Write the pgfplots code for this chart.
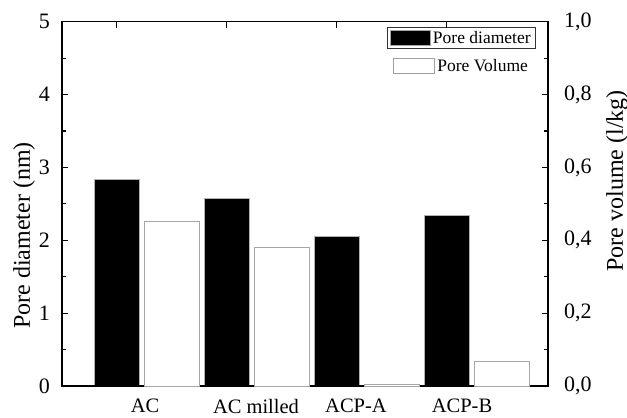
\documentclass[border=0pt]{standalone}
\usepackage{fontspec}
\setmainfont{Liberation Serif}
\usepackage{pgfplots}
\pgfplotsset{compat=1.18}
\begin{document}
\begin{tikzpicture}
\pgfplotsset{
  common/.style={
    scale only axis, width=486pt, height=364.3pt,
    at={(0,0)}, anchor=south west,
    xmin=62, xmax=548,
    axis line style={line width=1.2pt},
    tick style={line width=1.1pt, black},
    tick align=inside,
    major tick length=6pt, minor tick length=4pt,
    /pgf/number format/assume math mode=true,
    ticklabel style={font=\fontsize{22}{22}\selectfont},
    label style={font=\fontsize{24}{24}\selectfont},
    legend style={font=\fontsize{17.5}{19}\selectfont, cells={anchor=west},
      inner xsep=3pt, inner ysep=1.5pt, row sep=0pt, line width=0.8pt},
  },
}
% left axis: pore diameter
\begin{axis}[common,
  ymin=0, ymax=5,
  ytick={0,1,2,3,4,5},
  minor y tick num=1,
  ytick pos=left,
  yticklabel style={inner sep=0pt, anchor=east, xshift=-12pt},
  xtick={145,256,356,462},
  xticklabels={AC, AC milled, ACP-A, ACP-B},
  xtick pos=bottom,
  xtick style={draw=none},
  xticklabel style={inner sep=0pt, anchor=north, yshift=-13pt, font=\fontsize{20.5}{20.5}\selectfont},
  ylabel={Pore diameter (nm)},
  ylabel style={at={(axis description cs:-0.078,0.413)}, anchor=center},
  legend style={at={(axis description cs:0.6687,0.9855)}, anchor=north west, draw=black!80},
  legend image code/.code={\draw[fill=black, draw=gray!70, line width=0.6pt] (0pt,-7.5pt) rectangle (40pt,7.5pt);},
]
\addplot[ybar, bar width=45, bar shift=0pt, fill=black, draw=gray!60, line width=0.8pt]
  coordinates {(116.8,2.835) (226.8,2.575) (336.8,2.058) (446.8,2.34)};
\addlegendentry{Pore diameter}
\end{axis}
% right axis: pore volume
\begin{axis}[common,
  ymin=0, ymax=1,
  ytick={0,0.2,0.4,0.6,0.8,1.0},
  minor y tick num=1,
  ytick pos=right,
  yticklabel style={inner sep=0pt, anchor=west, xshift=16pt,
    /pgf/number format/.cd, fixed, fixed zerofill, precision=1, use comma},
  xtick={116.8,226.8,336.8,446.8},
  xticklabels={},
  xtick pos=top,
  ylabel={Pore volume (l/kg)},
  ylabel style={at={(axis description cs:1.142,0.563)}, anchor=center, rotate=0},
  legend style={at={(axis description cs:0.675,0.9086)}, anchor=north west, draw=none, fill=none},
  legend image code/.code={\draw[fill=white, draw=gray!75, line width=0.9pt] (0pt,-7.5pt) rectangle (41pt,7.5pt);},
]
\addplot[ybar, bar width=55, bar shift=0pt, fill=white, draw=gray!70, line width=1pt]
  coordinates {(171.5,0.451) (281.5,0.379) (391.5,0.004) (501.5,0.067)};
\addlegendentry{Pore Volume}
\end{axis}
\pgfresetboundingbox
\path (-62pt,-32pt) rectangle (565pt,386pt);
\end{tikzpicture}
\end{document}
